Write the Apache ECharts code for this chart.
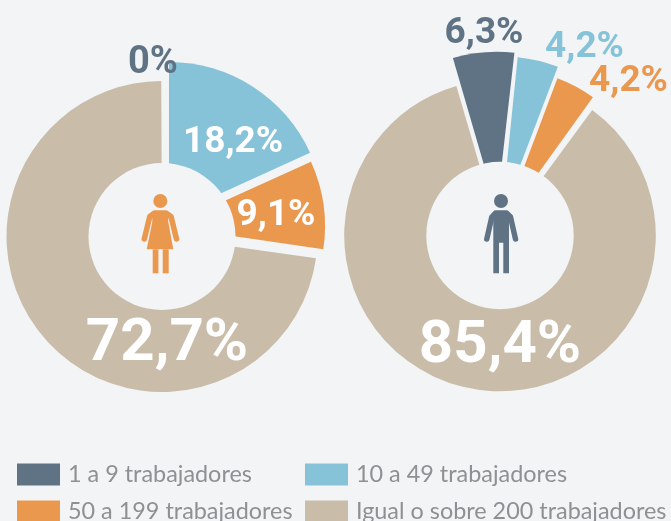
<!DOCTYPE html>
<html><head><meta charset="utf-8">
<style>html,body{margin:0;padding:0;background:#f2f4f6}#c{width:671px;height:521px}</style>
<script src="https://cdn.jsdelivr.net/npm/echarts@6/dist/echarts.min.js"></script>
</head><body><div id="c"></div>
<script>
const categories = ['1 a 9 trabajadores','10 a 49 trabajadores','50 a 199 trabajadores','Igual o sobre 200 trabajadores'];
const womenValues = [0, 18.2, 9.1, 72.7];
const menValues = [6.3, 4.2, 4.2, 85.4];
const colors = ['#5f7385','#86c3d8','#e9984e','#c9bdaa'];
const BG = '#f2f4f6';
const FONT = 'Roboto';
// layout per slice: apex centre, outer radius, start angle clockwise from top, label position, font size, label colour
const womenLayout = [
  {c:[162,236.5],R:155,a:0,lx:153,ly:63,fs:38,col:colors[0]},
  {c:[169,217],R:155,a:0,lx:233,ly:143,fs:37,col:'#fff'},
  {c:[168,226.5],R:157,a:65.6,lx:276,ly:216,fs:37,col:'#fff'},
  {c:[162,236.5],R:155.5,a:98,lx:167,ly:345,fs:60,col:'#fff'}
];
const menLayout = [
  {c:[496.7,208.7],R:157,a:-16.2,lx:484,ly:34,fs:37,col:colors[0]},
  {c:[501.8,213.4],R:157,a:5.8,lx:584.5,ly:48,fs:37,col:colors[1]},
  {c:[503.6,221.5],R:153,a:20.6,lx:628.5,ly:82,fs:37,col:colors[2]},
  {c:[500,235.5],R:155.8,a:36.3,lx:500,ly:347,fs:60,col:'#fff'}
];
const holes = [{c:[162,236.5],r:73.5},{c:[500,235.5],r:73.7}];
const fmt = v => String(v).replace('.',',') + '%';

function sliceSeries(values, layout){
  return values.map((v,i)=>{
    const L = layout[i];
    return {
      type:'pie', silent:true, animation:false, clockwise:true,
      center:L.c, radius:[0,L.R], startAngle:90-L.a, avoidLabelOverlap:false,
      labelLine:{show:false},
      labelLayout:{x:L.lx,y:L.ly,align:'center',verticalAlign:'middle',hideOverlap:false},
      data:[
        {name:categories[i],value:v,itemStyle:{color:colors[i]},
         label:{show:true,position:'inside',formatter:fmt(v),fontFamily:FONT,fontWeight:'bold',fontSize:L.fs,color:L.col}},
        {name:'',value:100-v,itemStyle:{color:'transparent'},label:{show:false}}
      ]
    };
  });
}
const holeSeries = holes.map(h=>({
  type:'pie',silent:true,animation:false,center:h.c,radius:[0,h.r],label:{show:false},labelLine:{show:false},
  data:[{name:'',value:1,itemStyle:{color:BG}}]
}));
const legendBase = {orient:'vertical',itemWidth:43,itemHeight:22,itemGap:14,top:463,height:90,padding:0,selectedMode:false,icon:'rect',
  textStyle:{fontFamily:'Lato',fontSize:23.4,lineHeight:22,color:'#8e9093',padding:[0,0,0,3]}};
const legendItem = i => ({name:categories[i],itemStyle:{color:colors[i]}});

function limb(points,color,w){return {type:'polyline',z:50,shape:{points},style:{stroke:color,lineWidth:w,lineCap:'round',lineJoin:'round',fill:null}};}
function poly(points,color){return {type:'polygon',z:50,shape:{points},style:{fill:color}};}
function rect(x,y,w,h,color){return {type:'rect',z:50,shape:{x,y,width:w,height:h},style:{fill:color}};}
function head(cx,cy,r,color){return {type:'circle',z:50,shape:{cx,cy,r},style:{fill:color}};}

const W = colors[2], M = colors[0];
const woman = [
  head(160.3,201,7,W),
  poly([[152.3,213],[168.3,213],[168.3,222],[173.3,249.3],[146.7,249.3],[152.3,222]],W),
  limb([[144.3,239],[149.8,216.5],[154.5,213],[166,213],[171,216.5],[176.5,239]],W,5.5),
  rect(152.7,249.3,5.7,24,W),rect(162.7,249.3,6,24,W)
];
const man = [
  head(501,201,7,M),
  poly([[493.3,213],[509,213],[509,273.3],[503.3,273.3],[503.3,242.7],[499,242.7],[499,273.3],[493.3,273.3]],M),
  limb([[486.8,239],[491.8,217],[495.5,213],[506.5,213],[510.5,217],[515.5,239]],M,5.5)
];

const chart = echarts.init(document.getElementById('c'),null,{renderer:'canvas'});
chart.setOption({
  backgroundColor:BG,animation:false,
  legend:[
    Object.assign({},legendBase,{left:17,data:[legendItem(0),legendItem(2)]}),
    Object.assign({},legendBase,{left:305,data:[legendItem(1),legendItem(3)]})
  ],
  series:[...sliceSeries(womenValues,womenLayout),...sliceSeries(menValues,menLayout),...holeSeries],
  graphic:{elements:[...woman,...man]}
});
</script></body></html>
